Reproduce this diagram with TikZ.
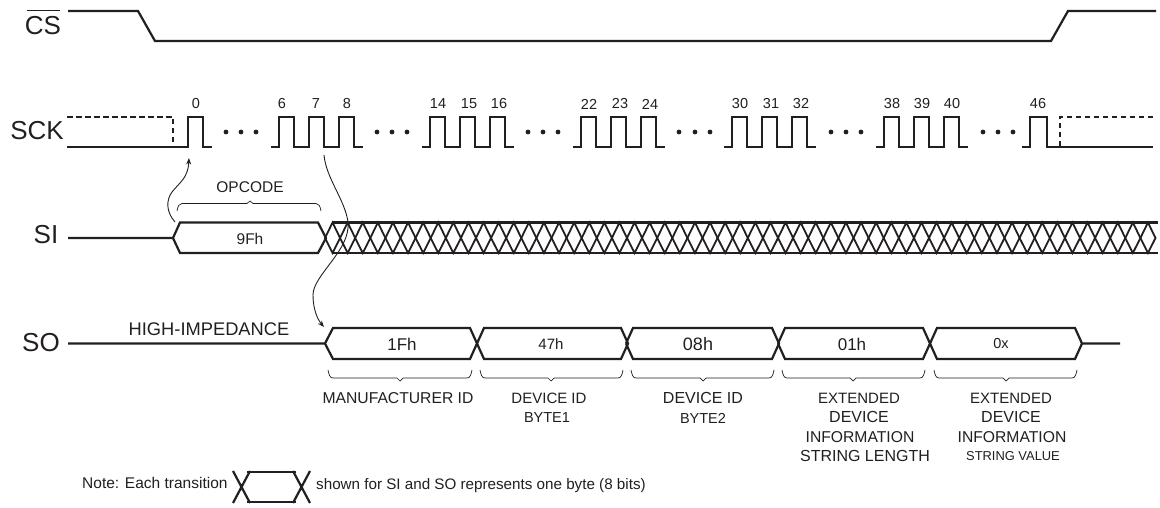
\documentclass[tikz,border=0pt]{standalone}
\usepackage{fontspec}
\usetikzlibrary{arrows.meta}
\setmainfont{Liberation Sans}
\definecolor{ink}{HTML}{231F20}
\newcommand{\fs}[1]{\fontsize{#1}{#1}\selectfont}
\tikzset{
  x=1pt,y=-1pt,
  sig/.style={draw=ink,line width=2.2pt,line join=miter},
  dashsig/.style={draw=ink,line width=1.9pt,dash pattern=on 5.5pt off 3.5pt},
  xing/.style={draw=ink,line width=1.8pt},
  thin line/.style={draw=ink,line width=0.9pt},
  brace/.style={draw=ink,line width=0.7pt},
  txt/.style={text=ink,inner sep=0pt},
  sigl/.style={txt,font=\fs{26}},
  num/.style={txt,font=\fs{14.5}},
  lab/.style={txt,font=\fs{15.5}},
}
\begin{document}
\begin{tikzpicture}
\useasboundingbox (0,0) rectangle (1160,508);
\fill[white] (0,0) rectangle (1160,508);
% CS
\node[sigl] (cs) at (43,26) {CS};
\draw[ink,line width=1.1pt] (27,10.5) -- (60,10.5);
\draw[sig] (68,11) -- (138,11) -- (155,41) -- (1051,41) -- (1068,11) -- (1156,11);
% SCK
\node[sigl] (sck) at (37,131) {SCK};
\draw[sig] (67,147) -- (188,147) -- (188,117) -- (203,117) -- (203,147) -- (212,147);
\draw[dashsig] (67,117) -- (173,117) -- (173,147);
\foreach \s in {271,422,573,724,876}{
  \draw[sig] (\s,147) -- ++(8,0) -- ++(0,-30) -- ++(15,0) -- ++(0,30) -- ++(15,0) -- ++(0,-30) -- ++(15,0) -- ++(0,30) -- ++(15,0) -- ++(0,-30) -- ++(15,0) -- ++(0,30) -- ++(9,0);
}
\draw[sig] (1022,147) -- (1030,147) -- (1030,117) -- (1047,117) -- (1047,147) -- (1153,147);
\draw[dashsig] (1153,117) -- (1060,117) -- (1060,147);
\foreach \x in {226,241,256,377,392,407,528,543,558,679,695,710,831,846,861,983,998,1013}
  \fill[ink] (\x,132) circle (2.4);
\foreach \x/\t in {196/0,282/6,316/7,347/8,438/14,469/15,499/16,589/22,620/23,650/24,740/30,771/31,801/32,892/38,922/39,952/40,1038/46}
  \node[num] at (\x,104) {\t};
% SI
\node[sigl] (si) at (46,235) {SI};
\draw[sig] (68,238) -- (173,238) -- (180,222.5) -- (318,222.5) -- (326,238) -- (318,253) -- (180,253) -- (173,238);
\node[lab] (nf) at (250,239) {9Fh};
\node[lab] (op) at (250,187) {OPCODE};
\draw[brace] (177,211) .. controls (178,206) and (179,203.5) .. (182,203.5) -- (247,203.5) -- (250,201) -- (253,203.5) -- (316,203.5) .. controls (319,203.5) and (320,206) .. (321,211);
\draw[sig] (332,222.5) -- (1158,222.5);
\draw[sig] (332,253) -- (1158,253);
\foreach \k in {0,...,54}{
  \pgfmathsetmacro{\xa}{325+15.1*\k}
  \pgfmathsetmacro{\xb}{325+15.1*(\k+1)}
  \draw[xing] (\xa,238) -- ({\xa+7.55},222.5) -- (\xb,238) -- ({\xa+7.55},253) -- cycle;
}
% SO
\node[sigl] (so) at (41,343) {SO};
\node[txt,font=\fs{18.3}] (hi) at (209,329) {HIGH-IMPEDANCE};
\draw[sig] (68,343.5) -- (325,343.5) -- (333,328) -- (470,328) -- (477,343.5) -- (470,359) -- (333,359) -- (325,343.5);
\draw[sig] (477,343.5) -- (484,328) -- (621,328) -- (628,343.5) -- (621,359) -- (484,359) -- (477,343.5);
\draw[sig] (626,343.5) -- (633,328) -- (772,328) -- (779,343.5) -- (772,359) -- (633,359) -- (626,343.5);
\draw[sig] (778,343.5) -- (785,328) -- (923,328) -- (930,343.5) -- (923,359) -- (785,359) -- (778,343.5);
\draw[sig] (930,343.5) -- (937,328) -- (1075,328) -- (1082,343.5) -- (1075,359) -- (937,359) -- (930,343.5) (1082,343.5) -- (1120,343.5);
\node[txt,font=\fs{17}] at (402,344) {1Fh};
\node[txt,font=\fs{15}] at (551,344) {47h};
\node[txt,font=\fs{18}] at (698,344) {08h};
\node[txt,font=\fs{17}] at (852,344) {01h};
\node[txt,font=\fs{14.5}] at (1001,344) {0x};
% arrows
\coordinate (a0) at (175,222);
\coordinate (a1) at (189,158);
\draw[thin line,-{Stealth[length=6.5pt,width=5pt]}] (a0) .. controls (166,212) and (166,200) .. (172,192) .. controls (180,182) and (188,178) .. (a1);
\coordinate (b0) at (324,155);
\coordinate (b1) at (324,327);
\draw[thin line,-{Stealth[length=6.5pt,width=5pt]}] (b0) .. controls (326,178) and (345,200) .. (348,222) .. controls (351,250) and (313,275) .. (313,295) .. controls (313,310) and (318,320) .. (b1);
% braces
\foreach \a/\t/\b in {328/400/472,480/551/623,631/703/774,782/853/925,934/1006/1077}
  \draw[brace] (\a,370) .. controls (\a+1,375) and (\a+2,378) .. (\a+5,378) -- (\t-3,378) -- (\t,381) -- (\t+3,378) -- (\b-5,378) .. controls (\b-2,378) and (\b-1,375) .. (\b,370);
% labels
\node[txt,font=\fs{15.7}] (m1) at (398,398) {MANUFACTURER ID};
\node[txt,font=\fs{15}] (m2) at (549,398) {DEVICE ID};
\node[txt,font=\fs{14.5}] (m3) at (547,418) {BYTE1};
\node[txt,font=\fs{16}] (m4) at (703,398) {DEVICE ID};
\node[txt,font=\fs{14.5}] (m5) at (703,418) {BYTE2};
\node[txt,font=\fs{15}] at (859,398) {EXTENDED};
\node[txt,font=\fs{16}] at (859,417) {DEVICE};
\node[txt,font=\fs{15.7}] at (860,437) {INFORMATION};
\node[txt,font=\fs{16}] at (865,456) {STRING LENGTH};
\node[txt,font=\fs{15}] at (1011,398) {EXTENDED};
\node[txt,font=\fs{16}] at (1011,417) {DEVICE};
\node[txt,font=\fs{15.7}] at (1012,437) {INFORMATION};
\node[txt,font=\fs{12.9}] at (1013,456) {STRING VALUE};
% note
\node[lab,anchor=west] (nl) at (82,483) {Note: Each transition};
\draw[sig] (233,471) -- (250,503) (233,503) -- (250,471);
\draw[sig] (293,471) -- (310,503) (293,503) -- (310,471);
\draw[sig] (247,472) -- (296,472) (247,502) -- (296,502);
\node[txt,font=\fs{15.2},anchor=west] (nr) at (316,486) {shown for SI and SO represents one byte (8 bits)};
\end{tikzpicture}
\end{document}
